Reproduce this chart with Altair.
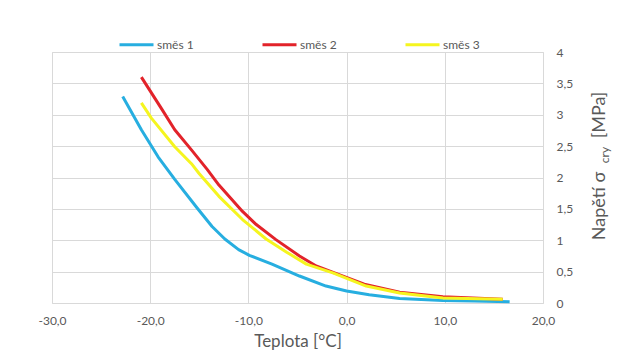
import altair as alt
import pandas as pd

series_names = ["směs 1", "směs 2", "směs 3"]
colors = ["#27aee0", "#e2232a", "#f5f51f"]

t1 = [-22.8, -20.9, -19.2, -17.5, -15.2, -13.7, -12.4, -11.0, -9.9, -7.6, -4.8, -2.1, 0.0, 2.3, 5.4, 9.8, 13.0, 16.6]
s1 = [3.29, 2.76, 2.33, 1.97, 1.51, 1.22, 1.02, 0.85, 0.76, 0.62, 0.43, 0.27, 0.19, 0.13, 0.07, 0.04, 0.03, 0.02]

t2 = [-20.9, -18.9, -17.5, -15.8, -14.2, -13.0, -10.6, -9.2, -7.2, -4.8, -3.1, -0.9, 1.8, 5.4, 9.8, 15.9]
s2 = [3.60, 3.11, 2.76, 2.44, 2.13, 1.88, 1.46, 1.25, 1.01, 0.75, 0.59, 0.46, 0.30, 0.17, 0.10, 0.06]

t3 = [-20.9, -19.9, -17.5, -15.8, -15.0, -13.0, -10.6, -8.2, -6.1, -4.1, -1.4, 2.0, 5.4, 9.8, 15.9]
s3 = [3.19, 2.95, 2.49, 2.22, 2.06, 1.70, 1.33, 1.02, 0.81, 0.62, 0.48, 0.27, 0.16, 0.08, 0.06]

x_ticks = [-30, -20, -10, 0, 10, 20]
y_ticks = [0, 0.5, 1, 1.5, 2, 2.5, 3, 3.5, 4]

rows = []
for name, ts, ss in zip(series_names, [t1, t2, t3], [s1, s2, s3]):
    for i, (t, s) in enumerate(zip(ts, ss)):
        rows.append({"serie": name, "t": t, "s": s, "i": i})
df = pd.DataFrame(rows)

FONT = "Lato"
GRAY = "#595959"
W, H = 491, 251

lines = alt.Chart(df).mark_line(strokeWidth=3, interpolate="linear", strokeJoin="round").encode(
    x=alt.X("t:Q", scale=alt.Scale(domain=[-30, 20], nice=False),
            axis=alt.Axis(values=x_ticks, grid=True, domain=False, ticks=False, labelFlush=False,
                          labelExpr="replace(replace(format(datum.value, '.1f'), '.', ','), '\u2212', '-')",
                          labelPadding=12, labelFontSize=12, labelColor=GRAY, labelFont=FONT,
                          title="Teplota [°C]", titleFontSize=17, titleColor=GRAY,
                          titleFont=FONT, titleFontWeight="normal", titlePadding=7,
                          gridColor="#d9d9d9")),
    y=alt.Y("s:Q", scale=alt.Scale(domain=[0, 4], nice=False),
            axis=alt.Axis(orient="right", values=y_ticks, grid=True, domain=False, ticks=False,
                          labelFlush=False,
                          labelExpr="replace(format(datum.value, '~g'), '.', ',')",
                          labelPadding=13, labelFontSize=12, labelColor=GRAY, labelFont=FONT,
                          labelAlign="left", title=None, gridColor="#d9d9d9")),
    color=alt.Color("serie:N", scale=alt.Scale(domain=series_names, range=colors),
                    legend=alt.Legend(orient="none", direction="horizontal", legendX=66, legendY=-26,
                                      title=None, symbolType="stroke", symbolSize=1156,
                                      symbolStrokeWidth=3, labelFontSize=12, labelColor=GRAY,
                                      labelFont=FONT, labelOffset=2, columnPadding=62)),
    order="i:Q",
)

t_main = alt.Chart(pd.DataFrame({"txt": ["Napětí σ"]})).mark_text(
    angle=270, align="center", baseline="middle", fontSize=18, font=FONT, color=GRAY).encode(
    text="txt:N", x=alt.value(548), y=alt.value(154))
t_sub = alt.Chart(pd.DataFrame({"txt": ["cry"]})).mark_text(
    angle=270, align="center", baseline="middle", fontSize=12, font=FONT, color=GRAY).encode(
    text="txt:N", x=alt.value(553), y=alt.value(103))
t_unit = alt.Chart(pd.DataFrame({"txt": ["[MPa]"]})).mark_text(
    angle=270, align="center", baseline="middle", fontSize=18, font=FONT, color=GRAY).encode(
    text="txt:N", x=alt.value(548), y=alt.value(63))

chart = alt.layer(lines, t_main, t_sub, t_unit).properties(
    width=W, height=H,
    autosize=alt.AutoSizeParams(type="none"),
    padding={"left": 44, "top": 44, "right": 75, "bottom": 50},
).configure_view(stroke=None).configure(background="white")

chart.save("out.html", embed_options={"renderer": "svg", "actions": False})
